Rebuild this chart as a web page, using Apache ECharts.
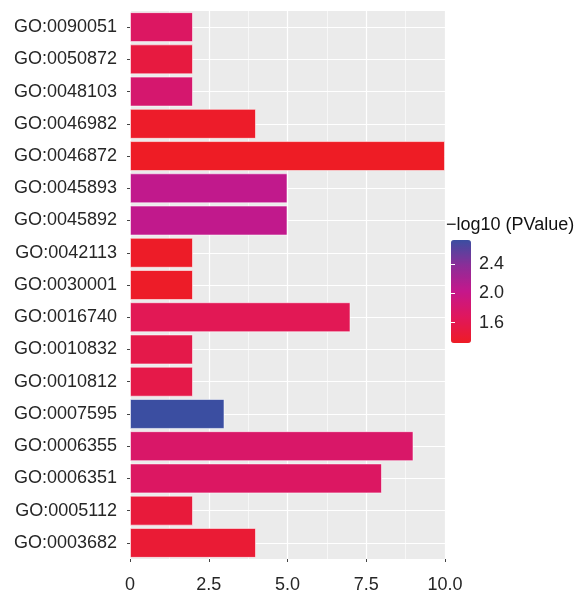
<!DOCTYPE html>
<html>
<head>
<meta charset="utf-8">
<script src="https://cdn.jsdelivr.net/npm/echarts@6/dist/echarts.min.js"></script>
<style>
  html, body { margin: 0; padding: 0; background: #ffffff; }
  #chart { width: 583px; height: 594px; }
</style>
</head>
<body>
<div id="chart"></div>
<script>
// GO terms, listed top to bottom
const categories = [
  'GO:0090051', 'GO:0050872', 'GO:0048103', 'GO:0046982', 'GO:0046872',
  'GO:0045893', 'GO:0045892', 'GO:0042113', 'GO:0030001', 'GO:0016740',
  'GO:0010832', 'GO:0010812', 'GO:0007595', 'GO:0006355', 'GO:0006351',
  'GO:0005112', 'GO:0003682'
];
// gene counts per term (bar length)
const geneCounts = [2, 2, 2, 4, 10, 5, 5, 2, 2, 7, 2, 2, 3, 9, 8, 2, 4];
// -log10(P value) per term (bar fill)
const negLogP = [1.72, 1.49, 1.81, 1.35, 1.32, 2.05, 2.05, 1.34, 1.34, 1.63,
                 1.56, 1.55, 2.73, 1.76, 1.72, 1.46, 1.42];
// x axis ticks and their labels
const xTicks = [0, 2.5, 5, 7.5, 10];
const xTickLabels = ['0', '2.5', '5.0', '7.5', '10.0'];
// colour bar ticks
const legendTicks = [1.6, 2.0, 2.4];
const legendTickLabels = ['1.6', '2.0', '2.4'];
const legendTitle = '\u2212log10 (PValue)';
const pMin = 1.32, pMax = 2.73;
const rampColors = ['#ee1c25', '#e0175c', '#c5178b', '#8c2d98', '#3b4ea1'];

const FONT = '"Liberation Sans", Arial, Helvetica, sans-serif';
const TXT = '#262626';

const chart = echarts.init(document.getElementById('chart'), null, { renderer: 'canvas' });

const barData = categories.map((c, i) => [geneCounts[i], c, negLogP[i]]);

chart.setOption({
  backgroundColor: '#ffffff',
  animation: false,
  textStyle: { fontFamily: FONT },
  title: {
    text: legendTitle,
    left: 446, top: 216, padding: 0,
    textStyle: { fontFamily: FONT, fontSize: 18, fontWeight: 'normal', color: '#111' }
  },
  grid: [
    { left: 130, right: 138, top: 11, bottom: 34, show: true,
      backgroundColor: '#ebebeb', borderWidth: 0, containLabel: false },
    { left: 451, top: 240, width: 20, height: 103, show: false }
  ],
  visualMap: {
    type: 'continuous',
    min: pMin, max: pMax,
    dimension: 2,
    seriesIndex: 0,
    left: 451, top: 240,
    itemWidth: 20, itemHeight: 103,
    padding: 0,
    calculable: false,
    text: ['', ''],
    showLabel: false,
    hoverLink: false,
    inRange: { color: rampColors }
  },
  xAxis: [
    {
      type: 'value', gridIndex: 0,
      min: 0, max: 10, interval: 2.5,
      axisLine: { show: false },
      axisTick: { show: true, length: 3, lineStyle: { color: '#444', width: 1 } },
      axisLabel: {
        fontSize: 18, color: TXT, margin: 17, fontFamily: FONT,
        formatter: v => {
          const k = xTicks.indexOf(v);
          return k >= 0 ? xTickLabels[k] : '';
        }
      },
      splitLine: { show: true, lineStyle: { color: '#ffffff', width: 1.2 } },
      minorTick: { show: false, splitNumber: 2 },
      minorSplitLine: { show: true, lineStyle: { color: '#ffffff', width: 0.6 } }
    },
    { type: 'value', gridIndex: 1, show: false, min: 0, max: 1 }
  ],
  yAxis: [
    {
      type: 'category', gridIndex: 0,
      data: categories, inverse: true,
      axisLine: { show: false },
      axisTick: { show: true, length: 3, alignWithLabel: true, lineStyle: { color: '#444', width: 1 } },
      axisLabel: { fontSize: 18, color: TXT, margin: 13, fontFamily: FONT },
      splitLine: { show: false }
    },
    {
      type: 'value', gridIndex: 1, position: 'right',
      min: pMin, max: pMax,
      axisLine: { show: false },
      splitLine: { show: false },
      axisTick: { show: true, inside: true, length: 4, customValues: legendTicks,
                  lineStyle: { color: '#ffffff', width: 1 } },
      axisLabel: { show: true, customValues: legendTicks, margin: 8, fontSize: 18,
                   color: TXT, fontFamily: FONT,
                   formatter: v => {
                     const k = legendTicks.findIndex(t => Math.abs(t - v) < 1e-6);
                     return k >= 0 ? legendTickLabels[k] : '';
                   } },
      z: 10
    },
    {
      type: 'value', gridIndex: 1, position: 'left',
      min: pMin, max: pMax,
      axisLine: { show: false },
      splitLine: { show: false },
      axisTick: { show: true, inside: true, length: 4, customValues: legendTicks,
                  lineStyle: { color: '#ffffff', width: 1 } },
      axisLabel: { show: false },
      z: 10
    }
  ],
  series: [
    {
      type: 'bar',
      xAxisIndex: 0, yAxisIndex: 0,
      data: barData,
      encode: { x: 0, y: 1 },
      barCategoryGap: '7%',
      itemStyle: { borderColor: 'rgba(255,255,255,0.55)', borderWidth: 1 },
      z: 3
    },
    {
      // white reference lines through each category centre, behind the bars
      type: 'line',
      xAxisIndex: 0, yAxisIndex: 0,
      data: categories.map(c => [0, c]),
      encode: { x: 0, y: 1 },
      showSymbol: false, symbol: 'none',
      lineStyle: { width: 0, opacity: 0 },
      silent: true,
      z: 1,
      markLine: {
        silent: true, symbol: 'none', z: 1,
        label: { show: false },
        lineStyle: { color: '#ffffff', width: 1.2, type: 'solid' },
        data: categories.map(c => ({ yAxis: c }))
      }
    }
  ]
});
</script>
</body>
</html>
